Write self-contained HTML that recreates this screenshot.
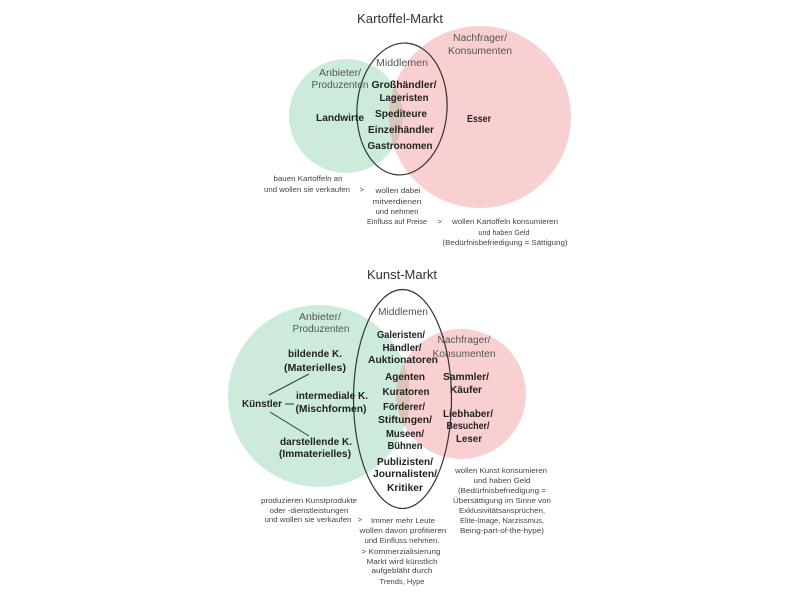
<!DOCTYPE html>
<html><head><meta charset="utf-8"><style>
html,body{margin:0;padding:0;background:#fff;}
svg{display:block;}
text{font-family:"Liberation Sans",sans-serif;}
.b{font-weight:bold;font-size:10.5px;fill:#222;}
.r{font-size:10px;fill:#555;}
.s{font-size:7.5px;fill:#444;}
.t{font-size:13px;fill:#333;}
</style></head><body>
<svg width="800" height="600" viewBox="0 0 800 600" xmlns="http://www.w3.org/2000/svg">
<defs>
<clipPath id="cg1"><circle cx="346" cy="116" r="57"/></clipPath>
<clipPath id="cg2"><circle cx="319" cy="396" r="91"/></clipPath>
</defs>
<rect width="800" height="600" fill="#fff"/>

<!-- Kartoffel -->
<circle cx="346" cy="116" r="57" fill="#cdebdb"/>
<circle cx="480" cy="117" r="91" fill="#f8d0d2"/>
<circle cx="480" cy="117" r="91" fill="#d8c5b6" clip-path="url(#cg1)"/>
<ellipse cx="402" cy="109" rx="45" ry="66" fill="none" stroke="#333" stroke-width="1.2" transform="rotate(4 402 109)"/>

<text class="t" x="400" y="23" text-anchor="middle" textLength="86" lengthAdjust="spacingAndGlyphs">Kartoffel-Markt</text>
<text class="r" x="480" y="41" text-anchor="middle" textLength="54" lengthAdjust="spacingAndGlyphs">Nachfrager/</text>
<text class="r" x="480" y="54" text-anchor="middle" textLength="64" lengthAdjust="spacingAndGlyphs">Konsumenten</text>
<text class="r" x="402" y="66" text-anchor="middle" textLength="52" lengthAdjust="spacingAndGlyphs">Middlemen</text>
<text class="r" x="340" y="76" text-anchor="middle" textLength="42" lengthAdjust="spacingAndGlyphs">Anbieter/</text>
<text class="r" x="340" y="88" text-anchor="middle" textLength="57" lengthAdjust="spacingAndGlyphs">Produzenten</text>
<text class="b" x="404" y="88" text-anchor="middle" textLength="65" lengthAdjust="spacingAndGlyphs">Großhändler/</text>
<text class="b" x="404" y="101" text-anchor="middle" textLength="49" lengthAdjust="spacingAndGlyphs">Lageristen</text>
<text class="b" x="401" y="117" text-anchor="middle" textLength="52" lengthAdjust="spacingAndGlyphs">Spediteure</text>
<text class="b" x="401" y="133" text-anchor="middle" textLength="66" lengthAdjust="spacingAndGlyphs">Einzelhändler</text>
<text class="b" x="400" y="149" text-anchor="middle" textLength="65" lengthAdjust="spacingAndGlyphs">Gastronomen</text>
<text class="b" x="340" y="121" text-anchor="middle" textLength="48" lengthAdjust="spacingAndGlyphs">Landwirte</text>
<text class="b" x="479" y="122" text-anchor="middle" textLength="24" lengthAdjust="spacingAndGlyphs">Esser</text>

<text class="s" x="308" y="181" text-anchor="middle" textLength="69" lengthAdjust="spacingAndGlyphs">bauen Kartoffeln an</text>
<text class="s" x="307" y="192" text-anchor="middle" textLength="86" lengthAdjust="spacingAndGlyphs">und wollen sie verkaufen</text>
<text class="s" x="362" y="192" text-anchor="middle">&gt;</text>
<text class="s" x="398" y="193" text-anchor="middle" textLength="45" lengthAdjust="spacingAndGlyphs">wollen dabei</text>
<text class="s" x="397" y="204" text-anchor="middle" textLength="49" lengthAdjust="spacingAndGlyphs">mitverdienen</text>
<text class="s" x="397" y="214" text-anchor="middle" textLength="43" lengthAdjust="spacingAndGlyphs">und nehmen</text>
<text class="s" x="397" y="224" text-anchor="middle" textLength="60" lengthAdjust="spacingAndGlyphs">Einfluss auf Preise</text>
<text class="s" x="440" y="224" text-anchor="middle">&gt;</text>
<text class="s" x="505" y="224" text-anchor="middle" textLength="106" lengthAdjust="spacingAndGlyphs">wollen Kartoffeln konsumieren</text>
<text class="s" x="504" y="235" text-anchor="middle" textLength="51" lengthAdjust="spacingAndGlyphs">und haben Geld</text>
<text class="s" x="505" y="245" text-anchor="middle" textLength="125" lengthAdjust="spacingAndGlyphs">(Bedürfnisbefriedigung = Sättigung)</text>

<!-- Kunst -->
<circle cx="319" cy="396" r="91" fill="#cdebdb"/>
<circle cx="461" cy="394" r="65" fill="#f8d0d2"/>
<circle cx="461" cy="394" r="65" fill="#d8c5b6" clip-path="url(#cg2)"/>
<ellipse cx="402.5" cy="399" rx="49" ry="109.5" fill="none" stroke="#333" stroke-width="1.2"/>

<text class="t" x="402" y="279" text-anchor="middle" textLength="70" lengthAdjust="spacingAndGlyphs">Kunst-Markt</text>
<text class="r" x="403" y="315" text-anchor="middle" textLength="50" lengthAdjust="spacingAndGlyphs">Middlemen</text>
<text class="r" x="320" y="320" text-anchor="middle" textLength="42" lengthAdjust="spacingAndGlyphs">Anbieter/</text>
<text class="r" x="321" y="332" text-anchor="middle" textLength="57" lengthAdjust="spacingAndGlyphs">Produzenten</text>
<text class="r" x="464" y="343" text-anchor="middle" textLength="53" lengthAdjust="spacingAndGlyphs">Nachfrager/</text>
<text class="r" x="464" y="357" text-anchor="middle" textLength="63" lengthAdjust="spacingAndGlyphs">Konsumenten</text>

<text class="b" x="401" y="338" text-anchor="middle" textLength="48" lengthAdjust="spacingAndGlyphs">Galeristen/</text>
<text class="b" x="402" y="351" text-anchor="middle" textLength="39" lengthAdjust="spacingAndGlyphs">Händler/</text>
<text class="b" x="403" y="363" text-anchor="middle" textLength="70" lengthAdjust="spacingAndGlyphs">Auktionatoren</text>
<text class="b" x="405" y="380" text-anchor="middle" textLength="40" lengthAdjust="spacingAndGlyphs">Agenten</text>
<text class="b" x="406" y="395" text-anchor="middle" textLength="47" lengthAdjust="spacingAndGlyphs">Kuratoren</text>
<text class="b" x="404" y="410" text-anchor="middle" textLength="42" lengthAdjust="spacingAndGlyphs">Förderer/</text>
<text class="b" x="405" y="423" text-anchor="middle" textLength="54" lengthAdjust="spacingAndGlyphs">Stiftungen/</text>
<text class="b" x="405" y="437" text-anchor="middle" textLength="38" lengthAdjust="spacingAndGlyphs">Museen/</text>
<text class="b" x="405" y="449" text-anchor="middle" textLength="35" lengthAdjust="spacingAndGlyphs">Bühnen</text>
<text class="b" x="405" y="465" text-anchor="middle" textLength="56" lengthAdjust="spacingAndGlyphs">Publizisten/</text>
<text class="b" x="405" y="477" text-anchor="middle" textLength="64" lengthAdjust="spacingAndGlyphs">Journalisten/</text>
<text class="b" x="405" y="491" text-anchor="middle" textLength="36" lengthAdjust="spacingAndGlyphs">Kritiker</text>

<text class="b" x="466" y="380" text-anchor="middle" textLength="46" lengthAdjust="spacingAndGlyphs">Sammler/</text>
<text class="b" x="466" y="393" text-anchor="middle" textLength="32" lengthAdjust="spacingAndGlyphs">Käufer</text>
<text class="b" x="468" y="417" text-anchor="middle" textLength="50" lengthAdjust="spacingAndGlyphs">Liebhaber/</text>
<text class="b" x="468" y="429" text-anchor="middle" textLength="43" lengthAdjust="spacingAndGlyphs">Besucher/</text>
<text class="b" x="469" y="442" text-anchor="middle" textLength="26" lengthAdjust="spacingAndGlyphs">Leser</text>

<text class="b" x="315" y="357" text-anchor="middle" textLength="54" lengthAdjust="spacingAndGlyphs">bildende K.</text>
<text class="b" x="315" y="371" text-anchor="middle" textLength="62" lengthAdjust="spacingAndGlyphs">(Materielles)</text>
<text class="b" x="262" y="407" text-anchor="middle" textLength="40" lengthAdjust="spacingAndGlyphs">Künstler</text>
<text class="b" x="332" y="399" text-anchor="middle" textLength="72" lengthAdjust="spacingAndGlyphs">intermediale K.</text>
<text class="b" x="331" y="412" text-anchor="middle" textLength="71" lengthAdjust="spacingAndGlyphs">(Mischformen)</text>
<text class="b" x="316" y="445" text-anchor="middle" textLength="72" lengthAdjust="spacingAndGlyphs">darstellende K.</text>
<text class="b" x="315" y="457" text-anchor="middle" textLength="72" lengthAdjust="spacingAndGlyphs">(Immaterielles)</text>
<g stroke="#333" stroke-width="1">
<line x1="269" y1="395" x2="309" y2="374"/>
<line x1="285" y1="404" x2="294" y2="404"/>
<line x1="270" y1="412" x2="309" y2="436"/>
</g>

<text class="s" x="309" y="503" text-anchor="middle" textLength="96" lengthAdjust="spacingAndGlyphs">produzieren Kunstprodukte</text>
<text class="s" x="309" y="513" text-anchor="middle" textLength="79" lengthAdjust="spacingAndGlyphs">oder -dienstleistungen</text>
<text class="s" x="308" y="522" text-anchor="middle" textLength="87" lengthAdjust="spacingAndGlyphs">und wollen sie verkaufen</text>
<text class="s" x="360" y="522" text-anchor="middle">&gt;</text>
<text class="s" x="403" y="523" text-anchor="middle" textLength="64" lengthAdjust="spacingAndGlyphs">Immer mehr Leute</text>
<text class="s" x="403" y="533" text-anchor="middle" textLength="87" lengthAdjust="spacingAndGlyphs">wollen davon profitieren</text>
<text class="s" x="402" y="543" text-anchor="middle" textLength="75" lengthAdjust="spacingAndGlyphs">und Einfluss nehmen.</text>
<text class="s" x="401" y="554" text-anchor="middle" textLength="79" lengthAdjust="spacingAndGlyphs">&gt; Kommerzialisierung</text>
<text class="s" x="402" y="564" text-anchor="middle" textLength="71" lengthAdjust="spacingAndGlyphs">Markt wird künstlich</text>
<text class="s" x="402" y="573" text-anchor="middle" textLength="61" lengthAdjust="spacingAndGlyphs">aufgebläht durch</text>
<text class="s" x="402" y="584" text-anchor="middle" textLength="45" lengthAdjust="spacingAndGlyphs">Trends, Hype</text>

<text class="s" x="501" y="473" text-anchor="middle" textLength="92" lengthAdjust="spacingAndGlyphs">wollen Kunst konsumieren</text>
<text class="s" x="502" y="483" text-anchor="middle" textLength="57" lengthAdjust="spacingAndGlyphs">und haben Geld</text>
<text class="s" x="502" y="493" text-anchor="middle" textLength="88" lengthAdjust="spacingAndGlyphs">(Bedürfnisbefriedigung =</text>
<text class="s" x="502" y="503" text-anchor="middle" textLength="98" lengthAdjust="spacingAndGlyphs">Übersättigung im Sinne von</text>
<text class="s" x="502" y="513" text-anchor="middle" textLength="86" lengthAdjust="spacingAndGlyphs">Exklusivitätsansprüchen,</text>
<text class="s" x="502" y="523" text-anchor="middle" textLength="84" lengthAdjust="spacingAndGlyphs">Elite-Image, Narzissmus,</text>
<text class="s" x="502" y="533" text-anchor="middle" textLength="84" lengthAdjust="spacingAndGlyphs">Being-part-of-the-hype)</text>
</svg>
</body></html>
